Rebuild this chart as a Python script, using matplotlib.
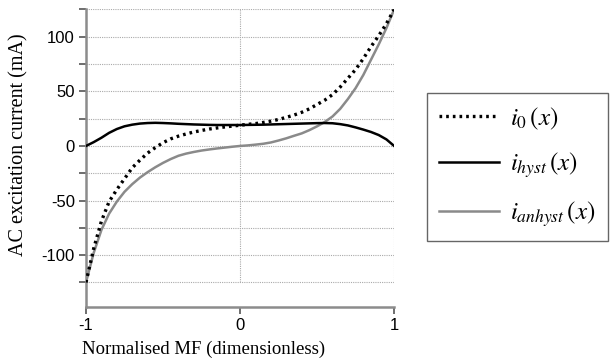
import numpy as np
import matplotlib
matplotlib.use('Agg')
import matplotlib.pyplot as plt

# values (mA vs normalised MF)
mf = [-1.0, -0.95, -0.9, -0.85, -0.8, -0.75, -0.7, -0.65, -0.6, -0.55, -0.5,
      -0.45, -0.4, -0.35, -0.3, -0.25, -0.2, -0.15, -0.1, -0.05, 0.0,
      0.05, 0.1, 0.15, 0.2, 0.25, 0.3, 0.35, 0.4, 0.45, 0.5,
      0.55, 0.6, 0.65, 0.7, 0.75, 0.8, 0.85, 0.9, 0.95, 1.0]

i_0 = [-125, -94, -69, -51, -40, -30, -20, -13, -6.5, -1.5, 3,
       6.5, 9, 11, 12.8, 14.2, 15.5, 16.5, 17.4, 18.2, 19,
       19.8, 20.5, 21.5, 22.7, 24.3, 26.2, 28.3, 30.8, 34, 38,
       42, 47, 54, 62, 70, 80, 91, 101, 112, 125]

i_hyst = [0, 3.5, 7.5, 12, 15.5, 18, 19.5, 20.5, 21, 21.2, 21,
          20.7, 20.3, 20, 19.7, 19.5, 19.3, 19.2, 19.2, 19.2, 19.2,
          19.3, 19.4, 19.5, 19.7, 19.9, 20.1, 20.3, 20.5, 20.7, 20.9,
          21, 20.8, 20, 18.8, 17, 15, 12.8, 10, 6, 0]

i_anhyst = [-125, -98, -77, -62, -51, -42, -35, -29, -24, -19.5, -15.5,
            -12, -9, -7, -5.5, -4.2, -3.2, -2.3, -1.5, -0.7, 0,
            0.5, 1.2, 2, 3.2, 5, 7, 9.3, 11.5, 14.5, 18,
            22, 27, 34, 43, 53, 65, 79, 93, 108, 125]

y_ticks = np.arange(-125, 126, 25)
y_labels = ['' if t % 50 else str(t) for t in y_ticks]
x_ticks = [-1, 0, 1]

plt.rcParams['mathtext.fontset'] = 'stix'
axcol = '#8c8c8c'

fig = plt.figure(figsize=(6.12, 3.58), dpi=100)
ax = fig.add_axes([0.1405, 0.1425, 0.5035, 0.8325])

for t in y_ticks:
    ax.plot([-1, 1], [t, t], color='#aaaaaa', lw=0.8, ls=(0, (1, 1)), zorder=1)
for t in x_ticks[1:]:
    ax.plot([t, t], [-125, 125], color='#aaaaaa', lw=0.8, ls=(0, (1, 1)), zorder=1)

l0, = ax.plot(mf, i_0, color='black', lw=2.4, ls=(0, (0.8, 1.2)), zorder=3)
l1, = ax.plot(mf, i_hyst, color='black', lw=1.8, zorder=3)
l2, = ax.plot(mf, i_anhyst, color='#8a8a8a', lw=1.8, zorder=2)

ax.set_xlim(-1, 1)
ax.set_ylim(-147.5, 125.5)
for s in ['top', 'right']:
    ax.spines[s].set_visible(False)
for s in ['left', 'bottom']:
    ax.spines[s].set_color(axcol)
    ax.spines[s].set_linewidth(1.8)

ax.set_yticks(y_ticks)
ax.set_yticklabels(y_labels, family='Liberation Sans', fontsize=12)
ax.set_xticks(x_ticks)
ax.set_xticklabels([str(t) for t in x_ticks], family='Liberation Sans', fontsize=12)
ax.tick_params(axis='both', color='#555555', length=5, width=1.2, pad=3)

ax.set_xlabel('Normalised MF (dimensionless)', family='Liberation Serif', fontsize=13.5)
ax.xaxis.set_label_coords(0.383, -0.113)
ax.set_ylabel('AC excitation current (mA)', family='Liberation Serif', fontsize=14.5)
ax.yaxis.set_label_coords(-0.185, 0.544)

leg = fig.legend([l0, l1, l2],
                 [r'$i_0\,(x)$', r'$i_{hyst}\,(x)$', r'$i_{anhyst}\,(x)$'],
                 loc='center left', bbox_to_anchor=(0.697, 0.533),
                 fontsize=18, handlelength=2.4, handletextpad=0.45,
                 labelspacing=0.75, borderpad=0.5, borderaxespad=0,
                 fancybox=False, edgecolor='#666666', framealpha=1)
leg.get_frame().set_linewidth(1.0)

fig.savefig('out.png', dpi=100)
